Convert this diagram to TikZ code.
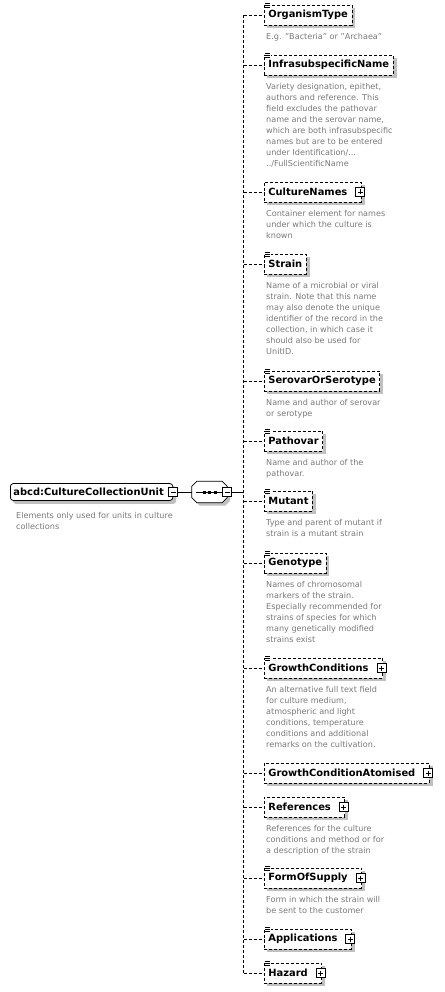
\documentclass[tikz,border=0pt]{standalone}
\usepackage{fontspec}
\setmainfont{DejaVu Sans}
\usetikzlibrary{calc,backgrounds}
\definecolor{descgray}{HTML}{7A7A7A}
\definecolor{shadowgray}{HTML}{C0C0C0}
\newcommand\nmfont{\fontsize{9.9}{11}\selectfont\bfseries}
\newcommand\dsfont{\fontsize{8.1}{11}\selectfont}
\newcommand\pmgap{\rule{10pt}{0pt}}
\tikzset{
  elem/.style={draw, dash pattern=on 3pt off 2pt, line width=0.8pt, fill=white, anchor=west, minimum height=20pt, inner xsep=4pt, inner ysep=0pt, font=\nmfont},
  rootbox/.style={draw, solid, rounded corners=3pt, line width=0.8pt, fill=white, anchor=west, minimum height=17pt, inner xsep=3pt, inner ysep=0pt, font=\nmfont},
  desc/.style={anchor=north west, align=left, text=descgray, font=\dsfont, inner sep=0pt},
  pmbox/.style={draw, solid, fill=white, minimum size=9pt, inner sep=0pt, line width=0.8pt},
  conn/.style={line width=0.8pt, dash pattern=on 3pt off 2pt},
  wire/.style={line width=0.8pt},
  shade/.style={fill=shadowgray},
}
\newcommand\plusmark[1]{\draw[wire] ($(#1.center)+(-2.5,0)$) -- ($(#1.center)+(2.5,0)$) ($(#1.center)+(0,-2.5)$) -- ($(#1.center)+(0,2.5)$);}
\newcommand\minusmark[1]{\draw[wire] ($(#1.center)+(-2.5,0)$) -- ($(#1.center)+(2.5,0)$);}
\newcommand\docicon[1]{\fill[white] ($(#1.north west)+(0.5,-2)$) rectangle ($(#1.north west)+(6.5,3.5)$);
  \draw[line width=0.6pt] ($(#1.north west)+(1,-1)$) -- +(5,0) ($(#1.north west)+(1,1)$) -- +(5,0) ($(#1.north west)+(1,3)$) -- +(5,0);}
\begin{document}
\begin{tikzpicture}[x=1pt,y=-1pt]
\useasboundingbox (0,0) rectangle (444,992);
% root
\node[rootbox] (root) at (10,492) {abcd:CultureCollectionUnit\rule{6pt}{0pt}};
\node[pmbox] (rm) at (root.east) {}; \minusmark{rm}
\node[desc] (rootd) at (16,512) {Elements only used for units in culture\\collections};
% sequence
\node[minimum width=35pt, minimum height=21pt, inner sep=0pt] (seq) at (209.5,492) {};
\draw[wire, fill=white] ($(seq.north west)+(5,0)$) -- ($(seq.north east)+(-5,0)$) -- ($(seq.north east)+(0,5)$) -- ($(seq.south east)+(0,-5)$) -- ($(seq.south east)+(-5,0)$) -- ($(seq.south west)+(5,0)$) -- ($(seq.south west)+(0,-5)$) -- ($(seq.north west)+(0,5)$) -- cycle;
\draw[wire] ($(seq.west)+(4,0)$) -- ($(seq.east)+(-4,0)$);
\fill ($(seq.center)+(-7,-1.5)$) rectangle ($(seq.center)+(-4,1.5)$);
\fill ($(seq.center)+(-1.5,-1.5)$) rectangle ($(seq.center)+(1.5,1.5)$);
\fill ($(seq.center)+(4,-1.5)$) rectangle ($(seq.center)+(7,1.5)$);
\node[pmbox] (sm) at (seq.east) {}; \minusmark{sm}
\draw[wire] (rm.east) -- (seq.west);
% junctions
\foreach \i/\y in {1/15,2/65,3/192,4/264,5/381,6/441,7/501,8/563,9/668,10/773,11/807,12/878,13/939,14/973}
  \coordinate (j\i) at (243.5,\y);
\draw[conn] (j1) -- (j14);
\draw[wire] (sm.east) -- (sm.east -| j1);
% elements
\node[elem] (e1) at (264,15) {OrganismType}; \docicon{e1}
\node[desc] (d1) at (266,33.5) {E.g. "Bacteria" or "Archaea"};
\node[elem] (e2) at (264,65) {InfrasubspecificName}; \docicon{e2}
\node[desc] (d2) at (266,83.5) {Variety designation, epithet,\\authors and reference. This\\field excludes the pathovar\\name and the serovar name,\\which are both infrasubspecific\\names but are to be entered\\under Identification/...\\../FullScientificName};
\node[elem] (e3) at (264,192) {CultureNames\pmgap};
\node[pmbox] (p3) at ($(e3.east)+(-1.5,0)$) {}; \plusmark{p3}
\node[desc] (d3) at (266,210.5) {Container element for names\\under which the culture is\\known};
\node[elem] (e4) at (264,264) {Strain}; \docicon{e4}
\node[desc] (d4) at (266,282.5) {Name of a microbial or viral\\strain. Note that this name\\may also denote the unique\\identifier of the record in the\\collection, in which case it\\should also be used for\\UnitID.};
\node[elem] (e5) at (264,381) {SerovarOrSerotype}; \docicon{e5}
\node[desc] (d5) at (266,399.5) {Name and author of serovar\\or serotype};
\node[elem] (e6) at (264,441) {Pathovar}; \docicon{e6}
\node[desc] (d6) at (266,459.5) {Name and author of the\\pathovar.};
\node[elem] (e7) at (264,501) {Mutant}; \docicon{e7}
\node[desc] (d7) at (266,519.5) {Type and parent of mutant if\\strain is a mutant strain};
\node[elem] (e8) at (264,563) {Genotype}; \docicon{e8}
\node[desc] (d8) at (266,581.5) {Names of chromosomal\\markers of the strain.\\Especially recommended for\\strains of species for which\\many genetically modified\\strains exist};
\node[elem] (e9) at (264,668) {GrowthConditions\pmgap}; \docicon{e9}
\node[pmbox] (p9) at ($(e9.east)+(-1.5,0)$) {}; \plusmark{p9}
\node[desc] (d9) at (266,686.5) {An alternative full text field\\for culture medium,\\atmospheric and light\\conditions, temperature\\conditions and additional\\remarks on the cultivation.};
\node[elem] (e10) at (264,773) {GrowthConditionAtomised\pmgap};
\node[pmbox] (p10) at ($(e10.east)+(-1.5,0)$) {}; \plusmark{p10}
\node[elem] (e11) at (264,807) {References\pmgap};
\node[pmbox] (p11) at ($(e11.east)+(-1.5,0)$) {}; \plusmark{p11}
\node[desc] (d11) at (266,825.5) {References for the culture\\conditions and method or for\\a description of the strain};
\node[elem] (e12) at (264,878) {FormOfSupply\pmgap}; \docicon{e12}
\node[pmbox] (p12) at ($(e12.east)+(-1.5,0)$) {}; \plusmark{p12}
\node[desc] (d12) at (266,896.5) {Form in which the strain will\\be sent to the customer};
\node[elem] (e13) at (264,939) {Applications\pmgap}; \docicon{e13}
\node[pmbox] (p13) at ($(e13.east)+(-1.5,0)$) {}; \plusmark{p13}
\node[elem] (e14) at (264,973) {Hazard\pmgap}; \docicon{e14}
\node[pmbox] (p14) at ($(e14.east)+(-1.5,0)$) {}; \plusmark{p14}
\foreach \i in {1,...,14} \draw[conn] (j\i) -- (e\i.west);
% shadows
\begin{pgfonlayer}{background}
\fill[white] (0,0) rectangle (444,992);
\foreach \n in {e1,e2,e3,e4,e5,e6,e7,e8,e9,e10,e11,e12,e13,e14}
  \fill[shade] ($(\n.south west)+(3,3)$) rectangle ($(\n.north east)+(3,3)$);
\fill[shade, rounded corners=3pt] ($(root.south west)+(3,3)$) rectangle ($(root.north east)+(3,3)$);
\fill[shade] ($(seq.north west)+(8,3)$) -- ($(seq.north east)+(-2,3)$) -- ($(seq.north east)+(3,8)$) -- ($(seq.south east)+(3,-2)$) -- ($(seq.south east)+(-2,3)$) -- ($(seq.south west)+(8,3)$) -- ($(seq.south west)+(3,-2)$) -- ($(seq.north west)+(3,8)$) -- cycle;
\end{pgfonlayer}
\end{tikzpicture}
\end{document}
